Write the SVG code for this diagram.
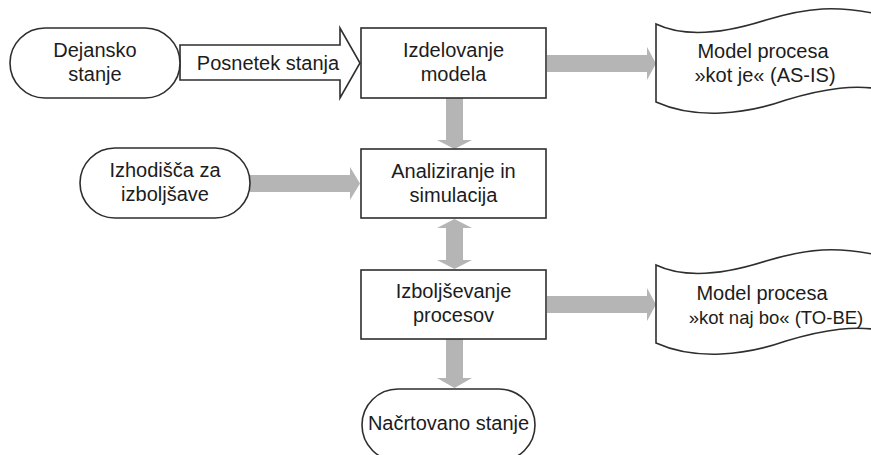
<svg xmlns="http://www.w3.org/2000/svg" width="871" height="455" viewBox="0 0 871 455">
  <style>
    .shape { fill: #ffffff; stroke: #2e2e2e; stroke-width: 1.6; }
    .flow { fill: #b5b5b5; stroke: none; }
    text { font-family: "Liberation Sans", Arial, sans-serif; font-size: 20px; fill: #1c1c1c; text-anchor: middle; }
    .doc text { font-size: 20px; }
    .doc text.long { font-size: 18.5px; }
  </style>
  <defs>
    <!-- wavy document outline, top-left corner at the origin -->
    <path id="docShape" d="M0,0 C25,12 60,12 110,-4 C150,-16 180,-20 230,-8 L230,66 C200,60 170,64 130,76 C90,90 40,96 0,78 Z"/>
  </defs>

  <rect width="871" height="455" fill="#ffffff"/>

  <!-- connectors -->
  <g id="connectors">
    <!-- Posnetek stanja: outlined block arrow -->
    <polygon class="shape" points="180,45 340,45 340,28 360,63 340,98 340,80 180,80"/>
    <text x="268" y="70">Posnetek stanja</text>
    <!-- Izdelovanje modela -> Model AS-IS -->
    <polygon class="flow" points="547,55 647,55 647,47 656,63.5 647,80 647,72 547,72"/>
    <!-- Izdelovanje modela -> Analiziranje -->
    <polygon class="flow" points="446,98 463,98 463,140 472,140 454.5,149 437,140 446,140"/>
    <!-- Izhodišča -> Analiziranje -->
    <polygon class="flow" points="250,175 350,175 350,167 360,183.5 350,200 350,192 250,192"/>
    <!-- Analiziranje <-> Izboljševanje -->
    <polygon class="flow" points="454.5,219 472,228 463,228 463,260 472,260 454.5,269 437,260 446,260 446,228 437,228"/>
    <!-- Izboljševanje -> Model TO-BE -->
    <polygon class="flow" points="547,296 647,296 647,288 656,304.5 647,321 647,313 547,313"/>
    <!-- Izboljševanje -> Načrtovano stanje -->
    <polygon class="flow" points="446,339 463,339 463,378 472,378 454.5,388 437,378 446,378"/>
  </g>

  <g id="dejansko">
    <rect class="shape" x="10" y="28" width="170" height="70" rx="35" ry="35"/>
    <text x="95" y="57">Dejansko</text>
    <text x="95" y="81">stanje</text>
  </g>

  <g id="izdelovanje">
    <rect class="shape" x="361" y="28" width="185" height="70"/>
    <text x="453.5" y="57">Izdelovanje</text>
    <text x="453.5" y="81">modela</text>
  </g>

  <g id="model-as-is" class="doc">
    <use href="#docShape" class="shape" transform="translate(656,24)"/>
    <text x="763" y="58">Model procesa</text>
    <text x="765" y="82">»kot je« (AS-IS)</text>
  </g>

  <g id="izhodisca">
    <rect class="shape" x="80" y="148" width="170" height="70" rx="35" ry="35"/>
    <text x="165" y="177">Izhodišča za</text>
    <text x="165" y="201">izboljšave</text>
  </g>

  <g id="analiziranje">
    <rect class="shape" x="361" y="149" width="185" height="69"/>
    <text x="453.5" y="177.5">Analiziranje in</text>
    <text x="453.5" y="201.5">simulacija</text>
  </g>

  <g id="izboljsevanje">
    <rect class="shape" x="361" y="270" width="185" height="69"/>
    <text x="453.5" y="298">Izboljševanje</text>
    <text x="453.5" y="322">procesov</text>
  </g>

  <g id="model-to-be" class="doc">
    <use href="#docShape" class="shape" transform="translate(656,265)"/>
    <text x="762" y="300">Model procesa</text>
    <text class="long" x="776" y="324">»kot naj bo« (TO-BE)</text>
  </g>

  <g id="nacrtovano">
    <rect class="shape" x="362" y="389" width="173" height="72" rx="36" ry="36"/>
    <text x="448.5" y="430">Načrtovano stanje</text>
  </g>
</svg>
